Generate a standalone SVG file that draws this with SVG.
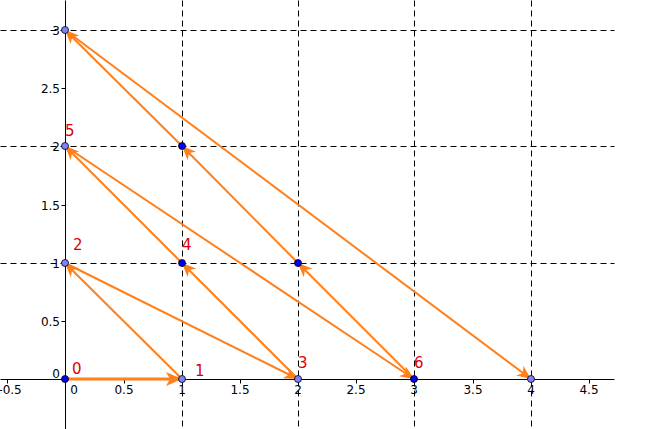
<svg xmlns="http://www.w3.org/2000/svg" width="647" height="429" viewBox="0 0 647 429">
<defs>
<style>
.grid{stroke:#000;stroke-width:1;stroke-dasharray:6,4;fill:none}
.axis{stroke:#000;stroke-width:1;fill:none}
.tick{font-family:"DejaVu Sans",sans-serif;font-size:12px;fill:#000}
.vec{stroke:#ff7f1a;stroke-width:2;fill:none;marker-end:url(#ah)}
.lbl{font-family:"DejaVu Sans",sans-serif;font-size:15px;fill:#dd0000}
.pd{fill:#0000ff;stroke:#000;stroke-width:0.8}
.pl{fill:#7f7fff;stroke:#000;stroke-width:0.8}
</style>
<marker id="ah" markerUnits="userSpaceOnUse" markerWidth="16" markerHeight="12" viewBox="0 0 16 12" refX="14" refY="6" orient="auto">
<path d="M0,0 L14,6 L0,12 L4,6 z" fill="#ff7f1a"/>
</marker>
<marker id="ah2" markerUnits="userSpaceOnUse" markerWidth="18" markerHeight="14" viewBox="0 0 18 14" refX="16" refY="7" orient="auto">
<path d="M0,0 L16,7 L0,14 L4,7 z" fill="#ff7f1a"/>
</marker>
</defs>
<rect width="647" height="429" fill="#fff"/>
<g id="grid" transform="translate(0.5,0.5)">
<path class="grid" d="M182,0V429M298,0V429M414,0V429M531,0V429M0,263H614M0,146H614M0,30H614"/>
</g>
<g id="axes" transform="translate(0.5,0.5)">
<path class="axis" d="M0,379H614M65,0V429"/>
<path class="axis" d="M7,379v4M124,379v4M240,379v4M356,379v4M473,379v4M589,379v4M182,379v4M298,379v4M414,379v4M531,379v4M65,321h-4M65,205h-4M65,88h-4M65,263h-4M65,146h-4M65,30h-4"/>
</g>
<g id="ticklabels">
<g class="tick" text-anchor="middle">
<text x="10" y="394">-0.5</text>
<text x="74" y="394">0</text>
<text x="124" y="394">0.5</text>
<text x="182" y="394">1</text>
<text x="240" y="394">1.5</text>
<text x="298" y="394">2</text>
<text x="356" y="394">2.5</text>
<text x="414" y="394">3</text>
<text x="473" y="394">3.5</text>
<text x="531" y="394">4</text>
<text x="589" y="394">4.5</text>
</g>
<g class="tick" text-anchor="end">
<text x="60" y="378">0</text>
<text x="60" y="326">0.5</text>
<text x="60" y="268">1</text>
<text x="60" y="210">1.5</text>
<text x="60" y="151">2</text>
<text x="60" y="93">2.5</text>
<text x="60" y="35">3</text>
</g>
</g>
<g id="connectors">
<line class="vec" x1="65" y1="379" x2="182" y2="379" style="stroke-width:3;marker-end:url(#ah2)"/>
<line class="vec" x1="182" y1="379" x2="65" y2="263"/>
<line class="vec" x1="65" y1="263" x2="298" y2="379"/>
<line class="vec" x1="298" y1="379" x2="182" y2="263"/>
<line class="vec" x1="182" y1="263" x2="65" y2="146"/>
<line class="vec" x1="65" y1="146" x2="414" y2="379"/>
<line class="vec" x1="414" y1="379" x2="298" y2="263"/>
<line class="vec" x1="298" y1="263" x2="182" y2="146"/>
<line class="vec" x1="182" y1="146" x2="65" y2="30"/>
<line class="vec" x1="65" y1="30" x2="531" y2="379"/>
</g>
<g id="p0"><circle class="pd" cx="65" cy="379" r="3.5"/><text class="lbl" x="72" y="374">0</text></g>
<g id="p1"><circle class="pl" cx="182" cy="379" r="3.5"/><text class="lbl" x="195" y="376">1</text></g>
<g id="p2"><circle class="pl" cx="65" cy="263" r="3.5"/><text class="lbl" x="73" y="250">2</text></g>
<g id="p3"><circle class="pl" cx="298" cy="379" r="3.5"/><text class="lbl" x="298" y="368">3</text></g>
<g id="p4"><circle class="pd" cx="182" cy="263" r="3.5"/><text class="lbl" x="182" y="250">4</text></g>
<g id="p5"><circle class="pl" cx="65" cy="146" r="3.5"/><text class="lbl" x="65" y="136">5</text></g>
<g id="p12"><circle class="pd" cx="182" cy="146" r="3.5"/></g>
<g id="p21"><circle class="pd" cx="298" cy="263" r="3.5"/></g>
<g id="p6"><circle class="pd" cx="414" cy="379" r="3.5"/><text class="lbl" x="414" y="368">6</text></g>
<g id="p03"><circle class="pl" cx="65" cy="30" r="3.5"/></g>
<g id="p40"><circle class="pl" cx="531" cy="379" r="3.5"/></g>
</svg>
